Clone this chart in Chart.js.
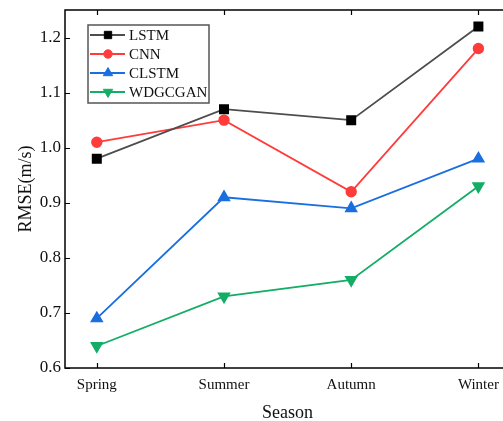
<!DOCTYPE html>
<html>
<head>
<meta charset="utf-8">
<script src="https://cdn.jsdelivr.net/npm/chart.js@4"></script>
<style>
  html, body { margin: 0; padding: 0; background: #fff; overflow: hidden; }
  #wrap { width: 503px; height: 421px; overflow: hidden; position: relative; }
  #rmseChart { position: absolute; left: 0; top: 0; width: 518px; height: 421px; }
</style>
</head>
<body>
<div id="wrap"><canvas id="rmseChart" width="518" height="421"></canvas></div>
<script>
// data
const seasons = ['Spring', 'Summer', 'Autumn', 'Winter'];
const lstm = [0.98, 1.07, 1.05, 1.22];
const cnn = [1.01, 1.05, 0.92, 1.18];
const clstm = [0.69, 0.91, 0.89, 0.98];
const wdgcgan = [0.64, 0.73, 0.76, 0.93];
const yTicks = [0.6, 0.7, 0.8, 0.9, 1.0, 1.1, 1.2];

const FONT = "'Liberation Serif', 'Times New Roman', serif";

function pts(arr) {
  return arr.map((v, i) => ({ x: i, y: v }));
}

// frame + inward tick marks on all four sides
const framePlugin = {
  id: 'frame',
  afterDatasetsDraw(chart) {
    const { ctx, chartArea: a, scales } = chart;
    ctx.save();
    ctx.strokeStyle = '#000';
    ctx.lineWidth = 1.5;
    ctx.strokeRect(a.left, a.top, a.right - a.left, a.bottom - a.top);
    ctx.lineWidth = 1.2;
    ctx.beginPath();
    seasons.forEach((s, i) => {
      const x = Math.round(scales.x.getPixelForValue(i)) + 0.5;
      ctx.moveTo(x, a.bottom); ctx.lineTo(x, a.bottom - 5);
      ctx.moveTo(x, a.top); ctx.lineTo(x, a.top + 5);
    });
    yTicks.forEach(v => {
      const y = Math.round(scales.y.getPixelForValue(v)) + 0.5;
      ctx.moveTo(a.left, y); ctx.lineTo(a.left + 5, y);
      ctx.moveTo(a.right, y); ctx.lineTo(a.right - 5, y);
    });
    ctx.stroke();
    ctx.restore();
  }
};

// legend box with line + marker samples
const legendPlugin = {
  id: 'boxLegend',
  afterDatasetsDraw(chart) {
    const ctx = chart.ctx;
    const bx = 88, by = 25, bw = 121, bh = 78;
    ctx.save();
    ctx.fillStyle = '#fff';
    ctx.fillRect(bx, by, bw, bh);
    ctx.strokeStyle = '#555';
    ctx.lineWidth = 1.5;
    ctx.strokeRect(bx, by, bw, bh);
    chart.data.datasets.forEach((ds, i) => {
      const y = 35 + i * 19;
      ctx.strokeStyle = ds.borderColor;
      ctx.lineWidth = 2;
      ctx.beginPath();
      ctx.moveTo(90, y); ctx.lineTo(125, y);
      ctx.stroke();
      ctx.fillStyle = ds.pointBackgroundColor;
      ctx.strokeStyle = ds.pointBorderColor;
      ctx.lineWidth = 1;
      Chart.helpers.drawPoint(ctx, {
        pointStyle: ds.pointStyle,
        radius: ds.pointRadius - 0.6,
        rotation: ds.pointRotation || 0,
        borderWidth: 1
      }, 108, y);
      ctx.fillStyle = '#111';
      ctx.font = '15px ' + FONT;
      ctx.textBaseline = 'middle';
      ctx.fillText(ds.label, 129, y + 1);
    });
    ctx.restore();
  }
};

const ctx = document.getElementById('rmseChart').getContext('2d');
new Chart(ctx, {
  type: 'line',
  data: {
    datasets: [
      {
        label: 'LSTM',
        data: pts(lstm),
        borderColor: '#4d4d4d',
        pointBackgroundColor: '#000',
        pointBorderColor: '#000',
        pointStyle: 'rect',
        pointRadius: 5.8,
        borderWidth: 1.8
      },
      {
        label: 'CNN',
        data: pts(cnn),
        borderColor: '#ff3b3b',
        pointBackgroundColor: '#ff3b3b',
        pointBorderColor: '#ff3b3b',
        pointStyle: 'circle',
        pointRadius: 4.8,
        borderWidth: 1.8
      },
      {
        label: 'CLSTM',
        data: pts(clstm),
        borderColor: '#1a6fe0',
        pointBackgroundColor: '#1a6fe0',
        pointBorderColor: '#1a6fe0',
        pointStyle: 'triangle',
        pointRadius: 6,
        borderWidth: 1.8
      },
      {
        label: 'WDGCGAN',
        data: pts(wdgcgan),
        borderColor: '#14ad66',
        pointBackgroundColor: '#14ad66',
        pointBorderColor: '#14ad66',
        pointStyle: 'triangle',
        pointRotation: 180,
        pointRadius: 6,
        borderWidth: 1.8
      }
    ]
  },
  options: {
    responsive: false,
    animation: false,
    layout: { padding: { top: 10, right: 2, left: 0, bottom: 0 } },
    plugins: { legend: { display: false }, tooltip: { enabled: false } },
    scales: {
      x: {
        type: 'linear',
        min: -0.25,
        max: 3.25,
        afterBuildTicks: s => { s.ticks = seasons.map((n, i) => ({ value: i })); },
        afterFit: s => { s.height = 53; s.paddingLeft = 0; s.paddingRight = 0; },
        grid: { display: false, drawTicks: false },
        border: { display: false },
        ticks: {
          padding: 8,
          color: '#111',
          font: { family: FONT, size: 15 },
          callback: v => seasons[v]
        },
        title: {
          display: true,
          text: 'Season',
          color: '#111',
          font: { family: FONT, size: 18 },
          padding: { top: -3, bottom: -3 }
        }
      },
      y: {
        min: 0.6,
        max: 1.25,
        afterBuildTicks: s => { s.ticks = yTicks.map(v => ({ value: v })); },
        afterFit: s => { s.width = 65; s.paddingTop = 0; s.paddingBottom = 0; },
        grid: { display: false, drawTicks: false },
        border: { display: false },
        ticks: {
          padding: 4,
          color: '#111',
          font: { family: FONT, size: 17 },
          callback: v => v.toFixed(1)
        },
        title: {
          display: true,
          text: 'RMSE(m/s)',
          color: '#111',
          font: { family: FONT, size: 18 },
          padding: { top: 15, bottom: 0 }
        }
      }
    }
  },
  plugins: [framePlugin, legendPlugin]
});
</script>
</body>
</html>
